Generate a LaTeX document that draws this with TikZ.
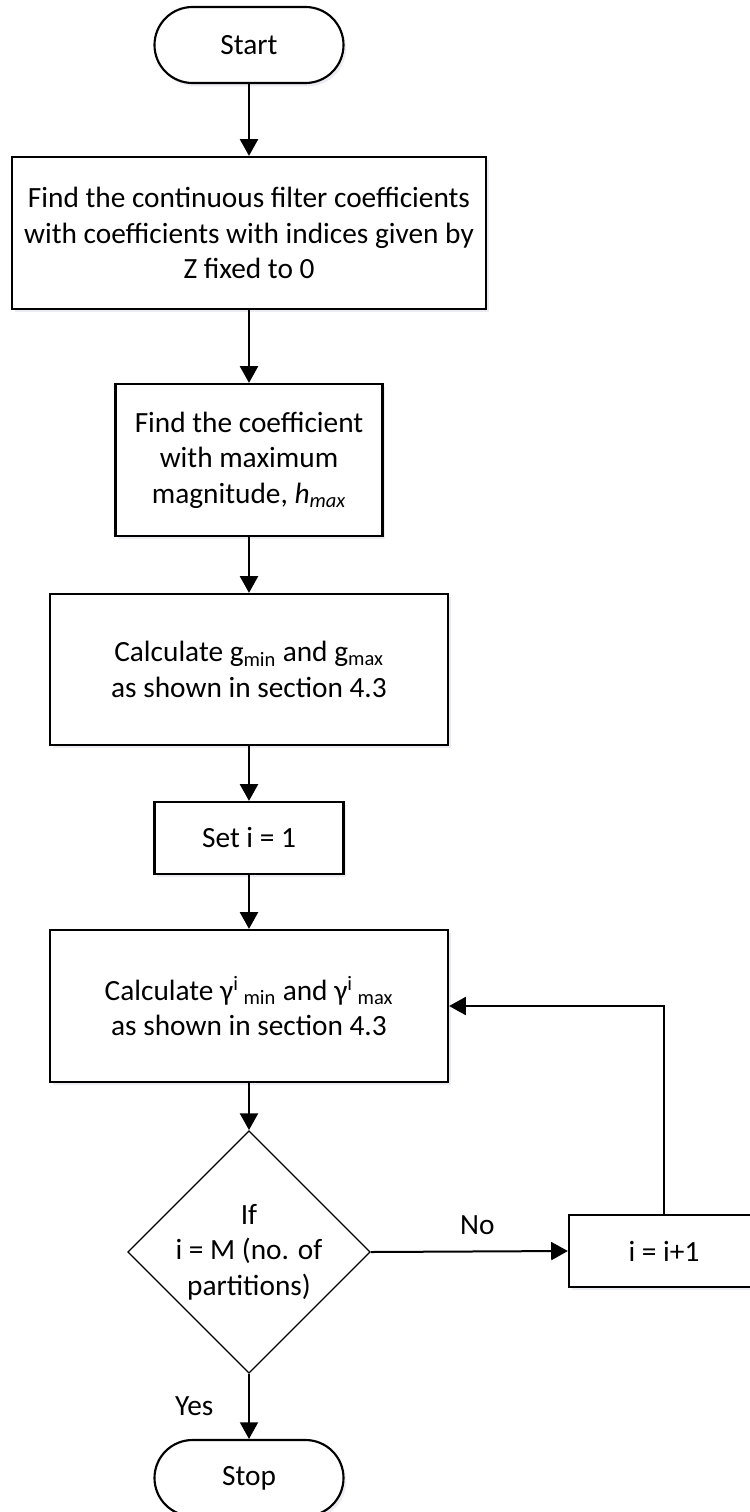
\documentclass[tikz,border=0pt]{standalone}
\usepackage{fontspec}
\setmainfont{Carlito}
\usetikzlibrary{shapes.geometric,arrows.meta,shadows}

\begin{document}
\begin{tikzpicture}[x=0.75pt,y=-0.75pt,
  every node/.style={font=\fontsize{22}{26.6}\selectfont, align=center, inner sep=0pt},
  softshadow/.style={drop shadow={shadow xshift=2pt, shadow yshift=-2.5pt,
    fill=blue!20!gray, opacity=0.12}},
  terminal/.style={draw, line width=1.6pt, fill=white, rounded corners=28.5pt,
    minimum width=141.75pt, minimum height=57pt, softshadow},
  procbox/.style={draw, line width=1.7pt, fill=white, softshadow},
  decision/.style={draw, line width=1pt, fill=white, shape=diamond, aspect=1,
    minimum width=177.75pt, minimum height=177.75pt},
  flow/.style={line width=1.5pt, -{Triangle[length=12.5pt,width=13.5pt]}},
  lbl/.style={font=\fontsize{22}{26.6}\selectfont}]

\useasboundingbox (0,0) rectangle (749,1512);

% main column
\node[terminal] (start) at (249,45) {Start};
\node[procbox, minimum width=355.5pt, minimum height=114pt] (coef) at (249,233)
  {Find the continuous filter coefficients\\with coefficients with indices given by\\Z fixed to 0};
\node[procbox, minimum width=200.25pt, minimum height=114pt] (hmax) at (249,460)
  {Find the coefficient\\with maximum\\magnitude, \textit{h}\textsubscript{\textit{max}}};
\node[procbox, minimum width=298.5pt, minimum height=113.25pt] (gcalc) at (249,669.5)
  {Calculate g\textsubscript{min} and g\textsubscript{max}\\as shown in section 4.3};
\node[procbox, minimum width=141.75pt, minimum height=54pt] (seti) at (249,838)
  {Set i = 1};
\node[procbox, minimum width=298.5pt, minimum height=114pt] (gamma) at (249,1006)
  {Calculate γ\textsuperscript{i}\,\textsubscript{min} and γ\textsuperscript{i}\,\textsubscript{max}\\as shown in section 4.3};
\node[decision] (test) at (249,1252)
  {If\\i = M (no. of\\partitions)};
\node[procbox, minimum width=142.5pt, minimum height=54pt] (incr) at (664,1251)
  {i = i+1};
\node[terminal] (stop) at (249,1478) {Stop};

% connectors
\draw[flow] (start) -- (coef);
\draw[flow] (coef) -- (hmax);
\draw[flow] (hmax) -- (gcalc);
\draw[flow] (gcalc) -- (seti);
\draw[flow] (seti) -- (gamma);
\draw[flow] (gamma) -- (test);
\draw[flow] (test.east) -- node[lbl, pos=0.54, yshift=19.5pt] {No} (incr.west);
\draw[flow] (incr.north) |- (gamma.east);
\draw[flow] (test.south) -- node[lbl, left=26pt] {Yes} (stop.north);

\end{tikzpicture}
\end{document}
